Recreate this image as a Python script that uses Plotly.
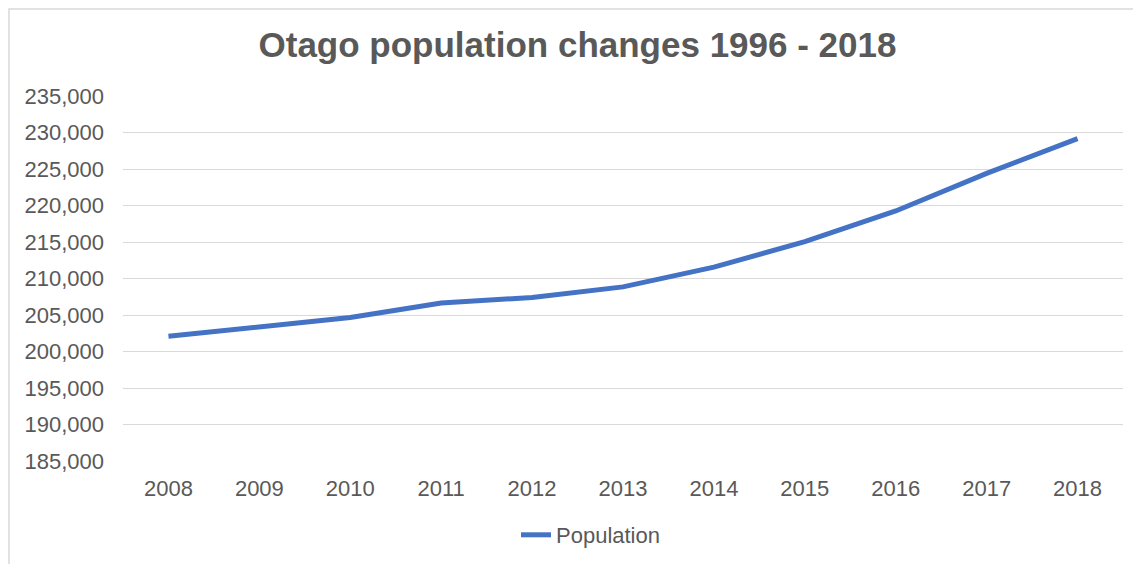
import plotly.graph_objects as go

years = ["2008", "2009", "2010", "2011", "2012", "2013", "2014", "2015", "2016", "2017", "2018"]
population = [202100, 203400, 204650, 206650, 207400, 208850, 211550, 215050, 219250, 224400, 229150]
y_ticks = [185000, 190000, 195000, 200000, 205000, 210000, 215000, 220000, 225000, 230000, 235000]
y_tick_labels = [f"{v:,}" for v in y_ticks]

TEXT = "#595959"
GRID = "#d9d9d9"
FONT = "Liberation Sans, Arial, sans-serif"

fig = go.Figure()
fig.add_trace(go.Scatter(
    x=years, y=population, mode="lines", name="Population",
    line=dict(color="#4472C4", width=5),
))

# page body has an 8px margin, so the figure is sized to the visible area
W, H = 1133, 556
L, R, T, B = 115, 18, 88, 103
pw, ph = W - L - R, H - T - B

fig.update_layout(
    width=W, height=H,
    margin=dict(l=L, r=R, t=T, b=B, autoexpand=False),
    paper_bgcolor="white", plot_bgcolor="white",
    font=dict(family=FONT, color=TEXT, size=22),
    title=dict(text="<b>Otago population changes 1996 - 2018</b>",
               x=569.5 / W, xanchor="center", y=1 - 37 / H, yanchor="middle",
               xref="container", yref="container",
               font=dict(family=FONT, size=35, color=TEXT)),
    showlegend=True,
    legend=dict(orientation="h", x=0.393, xanchor="left",
                y=-(527 - (H - B)) / ph, yanchor="middle",
                font=dict(family=FONT, size=22, color=TEXT),
                bgcolor="rgba(0,0,0,0)"),
    xaxis=dict(type="category", range=[-0.5, 10.5], showgrid=False,
               showline=False, zeroline=False, ticks="",
               ticklabelstandoff=12,
               tickfont=dict(family=FONT, size=22, color=TEXT)),
    yaxis=dict(range=[185000, 235000], tickvals=y_ticks, ticktext=y_tick_labels,
               showgrid=True, gridcolor=GRID, gridwidth=1.3,
               zeroline=False, showline=False, ticks="",
               ticklabelstandoff=18,
               tickfont=dict(family=FONT, size=22, color=TEXT)),
    shapes=[dict(type="rect", xref="paper", yref="paper",
                 x0=(1 - L) / pw, x1=(W + 20 - L) / pw,
                 y0=-(H + 20 - (H - B)) / ph, y1=((H - B) - 1) / ph,
                 line=dict(color=GRID, width=1.5), fillcolor="rgba(0,0,0,0)",
                 layer="below")],
)

fig.write_html("out.html")
